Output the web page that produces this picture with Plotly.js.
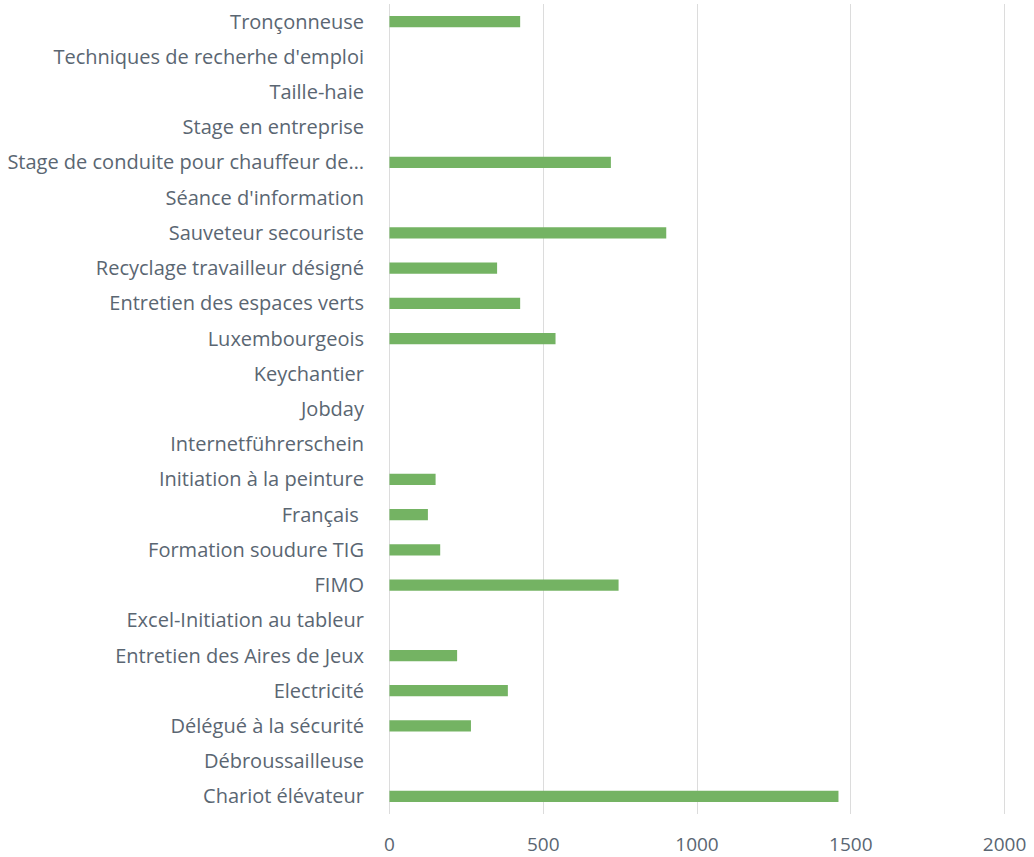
<!DOCTYPE html>
<html>
<head>
<meta charset="utf-8">
<script src="https://cdn.plot.ly/plotly-3.0.1.min.js"></script>
<style>html,body{margin:0;padding:0;background:#fff;}#chart{width:1034px;height:857px;}</style>
</head>
<body>
<div id="chart"></div>
<script>
var categories = [
  "Chariot élévateur",
  "Débroussailleuse",
  "Délégué à la sécurité",
  "Electricité",
  "Entretien des Aires de Jeux",
  "Excel-Initiation au tableur",
  "FIMO",
  "Formation soudure TIG",
  "Français ",
  "Initiation à la peinture",
  "Internetführerschein",
  "Jobday",
  "Keychantier",
  "Luxembourgeois",
  "Entretien des espaces verts",
  "Recyclage travailleur désigné",
  "Sauveteur secouriste",
  "Séance d'information",
  "Stage de conduite pour chauffeur de…",
  "Stage en entreprise",
  "Taille-haie",
  "Techniques de recherhe d'emploi",
  "Tronçonneuse"
];
var values = [1460, 0, 265, 385, 220, 0, 745, 165, 125, 150, 0, 0, 0, 540, 425, 350, 900, 0, 720, 0, 0, 0, 425];
var xTicks = [0, 500, 1000, 1500, 2000];

var textColor = "#5a6672";
Plotly.newPlot("chart", [{
  type: "bar",
  orientation: "h",
  y: categories,
  x: values,
  marker: {color: "#74b363", line: {width: 0}},
  hoverinfo: "x+y"
}], {
  width: 1034, height: 857,
  margin: {l: 387, r: 27, t: 4, b: 43},
  paper_bgcolor: "#fff", plot_bgcolor: "#fff",
  bargap: 0.68,
  showlegend: false,
  font: {family: "'Open Sans', sans-serif", size: 17, color: textColor},
  xaxis: {
    range: [-8, 2008],
    tickvals: xTicks,
    ticktext: xTicks.map(String),
    showgrid: true, gridcolor: "#dcdcdc", gridwidth: 1,
    zeroline: false, showline: false,
    ticks: "", ticklabelstandoff: 17,
    tickfont: {size: 19, color: textColor}
  },
  yaxis: {
    type: "category",
    categoryorder: "array", categoryarray: categories,
    showgrid: false, zeroline: false, showline: false,
    ticks: "", ticklabelstandoff: 22,
    tickfont: {size: 20, color: textColor}
  }
}, {displayModeBar: false, staticPlot: true});
</script>
</body>
</html>
